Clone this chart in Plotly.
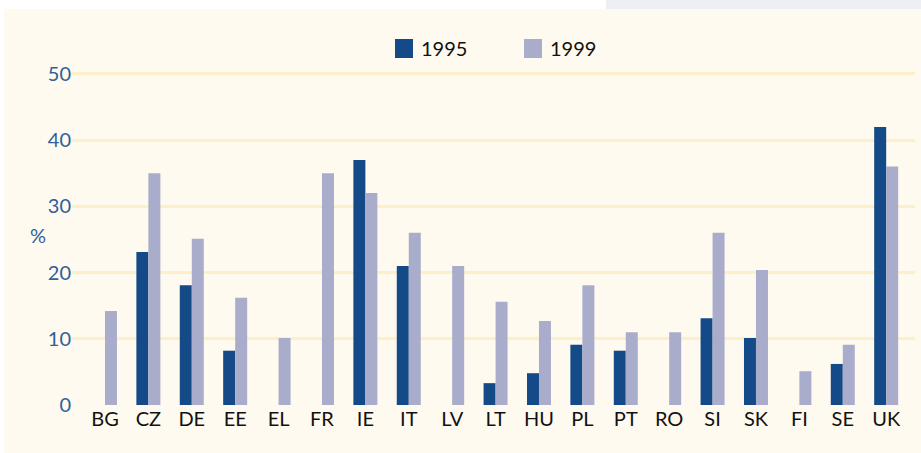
import plotly.graph_objects as go

countries = ["BG", "CZ", "DE", "EE", "EL", "FR", "IE", "IT", "LV", "LT",
             "HU", "PL", "PT", "RO", "SI", "SK", "FI", "SE", "UK"]
v1995 = [None, 23.1, 18.1, 8.2, None, None, 37.0, 21.0, None, 3.3,
         4.8, 9.1, 8.2, None, 13.1, 10.1, None, 6.2, 42.0]
v1999 = [14.2, 35.0, 25.1, 16.2, 10.1, 35.0, 32.0, 26.0, 21.0, 15.6,
         12.7, 18.1, 11.0, 11.0, 26.0, 20.4, 5.1, 9.1, 36.0]
years = ["1995", "1999"]
yticks = [0, 10, 20, 30, 40, 50]

DARK = "#134a87"
LIGHT = "#a9adcb"
CREAM = "#fefaef"
GRID = "#fdefc8"
BLUE_TXT = "#2f5f9c"
FONT = "Lato, 'Noto Sans', sans-serif"

W, H = 921, 453
L, R, T, B = 72, 6, 60, 48
PW, PH = W - L - R, H - T - B

def px(x):
    return (x - L) / PW

def py(y):
    return (H - B - y) / PH

xpos = list(range(len(countries)))
colors = [DARK, LIGHT]

fig = go.Figure()
for name, vals, col in zip(years, [v1995, v1999], colors):
    fig.add_trace(go.Bar(x=xpos, y=vals, name=name, marker_color=col,
                         marker_line_width=0, showlegend=False))

shapes = [
    dict(type="rect", xref="paper", yref="paper", x0=px(0), x1=px(606),
         y0=py(9), y1=py(0), fillcolor="white", line_width=0, layer="below"),
    dict(type="rect", xref="paper", yref="paper", x0=px(606), x1=px(921),
         y0=py(9), y1=py(0), fillcolor="#eeeef5", line_width=0, layer="below"),
    dict(type="rect", xref="paper", yref="paper", x0=px(0), x1=px(4),
         y0=py(453), y1=py(0), fillcolor="white", line_width=0, layer="below"),
]
annotations = [dict(text="%", xref="paper", yref="paper", x=px(28), y=py(235),
                    showarrow=False, font=dict(size=20, color=BLUE_TXT))]

# manual legend
leg_x = [395, 524]
for lx, name, col in zip(leg_x, years, colors):
    shapes.append(dict(type="rect", xref="paper", yref="paper",
                       x0=px(lx), x1=px(lx + 18), y0=py(58), y1=py(39),
                       fillcolor=col, line_width=0))
    annotations.append(dict(text=name, xref="paper", yref="paper",
                            x=px(lx + 24), y=py(48.5), xanchor="left",
                            yanchor="middle", showarrow=False,
                            font=dict(size=20, color="#111111")))

fig.update_layout(
    width=W, height=H,
    margin=dict(l=L, r=R, t=T, b=B, pad=0, autoexpand=False),
    paper_bgcolor=CREAM, plot_bgcolor=CREAM,
    bargap=0.447, bargroupgap=0,
    barmode="group",
    font=dict(family=FONT, size=20, color="#111111"),
    shapes=shapes,
    annotations=annotations,
    showlegend=False,
    xaxis=dict(range=[-0.76, 18.664], tickmode="array", tickvals=xpos,
               ticktext=countries, showgrid=False, zeroline=False,
               showline=False, ticks="", automargin=False,
               tickfont=dict(size=20, color="#111111")),
    yaxis=dict(range=[0, 52.1], tickmode="array", tickvals=yticks,
               showgrid=True, gridcolor=GRID, gridwidth=3, zeroline=False,
               showline=False, ticks="", ticklabelstandoff=0, automargin=False,
               tickfont=dict(size=20, color=BLUE_TXT)),
)

fig.write_html("out.html",
               config={"displayModeBar": False},
               post_script="document.body.style.margin='0';"
                           "document.body.style.overflow='hidden';")
